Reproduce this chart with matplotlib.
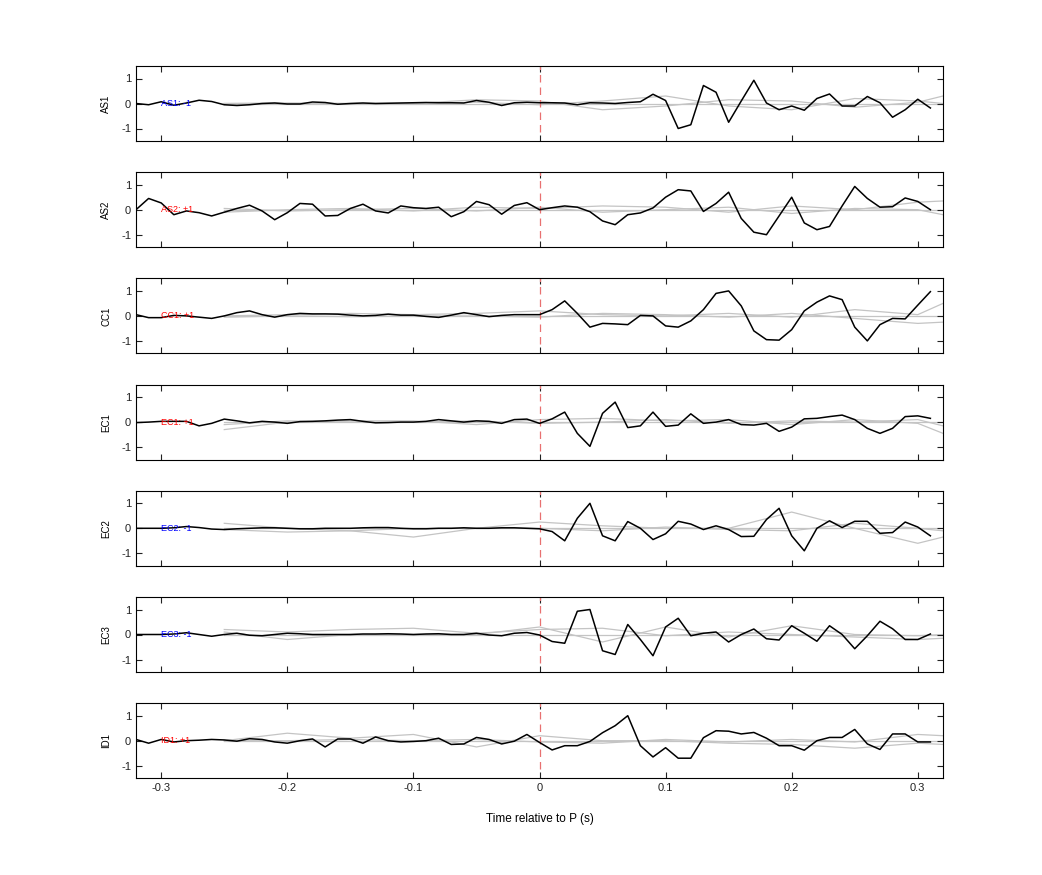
import numpy as np
import matplotlib
matplotlib.use("Agg")
import matplotlib.pyplot as plt

t = np.round(np.arange(-0.32, 0.315, 0.01), 2)  # 64 samples
stations = ["AS1", "AS2", "CC1", "EC1", "EC2", "EC3", "ID1"]
polarity = ["-1", "+1", "+1", "+1", "-1", "-1", "+1"]

as1 = [0, -0.05, 0.07, -0.07, 0.02, 0.13, 0.08, -0.05, -0.08, -0.05, 0.0, 0.02, -0.02, -0.02, 0.06, 0.04,
       -0.03, 0.0, 0.02, 0.0, 0.01, 0.02, 0.03, 0.04, 0.03, 0.03, 0.02, 0.12, 0.05, -0.08, 0.03, 0.05,
       0.03, 0.03, 0.02, -0.05, 0.03, 0.02, 0.0, 0.04, 0.07, 0.37, 0.12, -1.0, -0.85, 0.72, 0.45, -0.75,
       0.1, 0.93, 0.02, -0.25, -0.1, -0.27, 0.2, 0.38, -0.1, -0.1, 0.28, 0.03, -0.55, -0.25, 0.17, -0.18]
as2 = [0, 0.45, 0.27, -0.2, -0.05, -0.12, -0.25, -0.1, 0.05, 0.18, -0.05, -0.4, -0.12, 0.25, 0.22, -0.25,
       -0.23, 0.05, 0.22, -0.05, -0.13, 0.15, 0.08, 0.05, 0.1, -0.28, -0.08, 0.33, 0.2, -0.18, 0.17, 0.28,
       0.0, 0.08, 0.15, 0.1, -0.08, -0.45, -0.6, -0.2, -0.13, 0.07, 0.5, 0.8, 0.75, -0.07, 0.25, 0.7,
       -0.35, -0.9, -1.0, -0.25, 0.5, -0.53, -0.8, -0.67, 0.15, 0.93, 0.45, 0.1, 0.12, 0.47, 0.33, 0.0]
cc1 = [0.05, -0.07, -0.07, 0.02, 0.0, -0.05, -0.1, 0.0, 0.13, 0.2, 0.05, -0.05, 0.05, 0.1, 0.08, 0.08,
       0.07, 0.03, 0.0, 0.02, 0.07, 0.03, 0.03, -0.02, -0.06, 0.03, 0.13, 0.05, -0.03, 0.02, 0.05, 0.05,
       0.05, 0.25, 0.6, 0.1, -0.45, -0.3, -0.32, -0.35, 0.02, 0.0, -0.4, -0.45, -0.2, 0.25, 0.9, 1.0,
       0.4, -0.6, -0.95, -0.97, -0.55, 0.2, 0.55, 0.8, 0.65, -0.45, -1.0, -0.35, -0.1, -0.12, 0.43, 0.97]
ec1 = [-0.02, 0.0, 0.03, 0.03, 0.03, -0.15, -0.05, 0.12, 0.05, -0.03, 0.03, 0.0, -0.05, 0.02, 0.03, 0.05,
       0.08, 0.1, 0.03, -0.03, -0.02, 0.0, 0.0, 0.03, 0.1, 0.05, 0.0, 0.05, 0.03, -0.05, 0.1, 0.12,
       -0.05, 0.13, 0.4, -0.45, -0.97, 0.35, 0.8, -0.22, -0.15, 0.4, -0.17, -0.12, 0.33, -0.05, 0.0, 0.1,
       -0.1, -0.12, -0.05, -0.37, -0.2, 0.13, 0.15, 0.22, 0.28, 0.1, -0.25, -0.45, -0.25, 0.22, 0.25, 0.15]
ec2 = [0.0, 0.0, 0.0, 0.02, 0.07, 0.03, -0.03, -0.05, -0.02, 0.0, 0.02, 0.02, 0.0, -0.02, -0.02, 0.0,
       0.0, 0.0, 0.02, 0.03, 0.03, 0.0, -0.02, -0.02, 0.0, 0.0, 0.02, 0.0, 0.0, 0.02, 0.02, 0.0,
       -0.02, -0.13, -0.5, 0.4, 1.0, -0.3, -0.5, 0.27, 0.0, -0.45, -0.22, 0.28, 0.17, -0.05, 0.1, -0.05,
       -0.33, -0.32, 0.35, 0.8, -0.3, -0.9, 0.0, 0.3, 0.03, 0.28, 0.28, -0.2, -0.17, 0.25, 0.05, -0.3]
ec3 = [0.0, 0.0, 0.0, 0.02, 0.07, 0.0, -0.07, 0.0, 0.05, -0.03, -0.05, 0.0, 0.05, 0.03, 0.0, 0.0,
       0.0, 0.0, 0.02, 0.02, 0.03, 0.02, 0.0, 0.02, 0.03, 0.0, 0.0, 0.05, -0.02, -0.05, 0.05, 0.08,
       -0.02, -0.28, -0.35, 0.93, 1.0, -0.65, -0.8, 0.4, -0.2, -0.85, 0.3, 0.65, -0.05, 0.05, 0.1, -0.3,
       0.0, 0.22, -0.17, -0.22, 0.35, 0.05, -0.27, 0.35, 0.0, -0.57, -0.05, 0.53, 0.23, -0.2, -0.2, 0.02]
id1 = [0.05, -0.1, 0.05, -0.05, 0.0, 0.02, 0.05, 0.03, -0.02, 0.08, 0.05, -0.05, -0.1, 0.0, 0.07, -0.25,
       0.07, 0.07, -0.1, 0.15, 0.0, -0.05, -0.03, 0.0, 0.1, -0.15, -0.13, 0.13, 0.05, -0.13, -0.02, 0.25,
       -0.07, -0.37, -0.2, -0.2, -0.03, 0.32, 0.6, 1.0, -0.2, -0.65, -0.28, -0.7, -0.7, 0.12, 0.4, 0.38,
       0.27, 0.33, 0.1, -0.2, -0.2, -0.38, 0.0, 0.13, 0.13, 0.45, -0.13, -0.35, 0.27, 0.27, -0.05, -0.05]
traces = [as1, as2, cc1, ec1, ec2, ec3, id1]

# grey comparison traces, sampled every 0.05 s from -0.25 to 0.30, plus 0.32
tg = [-0.25, -0.2, -0.15, -0.1, -0.05, 0.0, 0.05, 0.1, 0.15, 0.2, 0.25, 0.3, 0.32]
grey = [
    [[0, 0, 0, 0, 0.15, 0.1, -0.25, -0.1, 0.15, 0.1, -0.15, 0.05, 0.3],
     [0, 0.02, 0, 0, 0.05, -0.05, 0.1, 0.3, -0.1, -0.25, 0.2, 0.1, 0.0],
     [0, 0, 0, 0, 0, 0, 0, 0, 0, 0, 0, 0, 0]],
    [[-0.1, 0.0, 0.05, -0.05, 0.1, 0.05, 0.15, 0.1, -0.1, 0.15, 0.0, 0.3, 0.35],
     [0.05, -0.05, 0.0, 0.05, -0.05, 0.1, -0.1, 0.0, 0.1, -0.15, 0.05, 0.0, -0.2],
     [0, 0, 0, 0, 0, 0, 0, 0, 0, 0, 0, 0, 0]],
    [[0.0, 0.05, 0.1, 0.05, 0.1, 0.2, 0.05, 0.0, 0.1, -0.05, 0.25, 0.05, 0.5],
     [-0.05, 0.0, -0.03, 0.0, 0.0, -0.05, 0.1, 0.05, -0.05, 0.1, -0.1, -0.3, -0.25],
     [0, 0, 0, 0, 0, 0, 0, 0, 0, 0, 0, 0, 0]],
    [[-0.3, 0.0, 0.05, 0.05, -0.1, 0.1, 0.15, 0.05, 0.1, -0.1, 0.1, -0.05, -0.45],
     [-0.1, 0.05, 0.0, 0.0, 0.05, -0.05, 0.0, 0.1, -0.05, 0.05, 0.0, 0.1, -0.15],
     [0, 0, 0, 0, 0, 0, 0, 0, 0, 0, 0, 0, 0]],
    [[0.2, 0.0, -0.1, 0.0, 0.0, 0.25, 0.1, 0.0, 0.0, 0.65, 0.0, -0.6, -0.35],
     [-0.05, -0.15, -0.1, -0.35, 0.0, 0.0, -0.1, 0.05, -0.05, -0.1, 0.2, 0.0, -0.1],
     [0, 0, 0, 0, 0, 0, 0, 0, 0, 0, 0, 0, 0]],
    [[0.2, 0.1, 0.2, 0.25, 0.05, 0.2, 0.25, -0.05, 0.1, 0.0, -0.1, -0.2, -0.15],
     [0.1, -0.2, 0.0, 0.0, 0.0, 0.3, -0.3, 0.3, -0.1, 0.35, 0.0, -0.05, 0.0],
     [0, 0, 0, 0, 0, 0, 0, 0, 0, 0, 0, 0, 0]],
    [[0.0, 0.3, 0.1, 0.25, -0.25, 0.2, 0.0, 0.0, -0.1, -0.15, -0.3, -0.1, -0.15],
     [0.0, 0.0, 0.05, 0.0, 0.05, -0.05, -0.1, 0.05, -0.05, 0.05, -0.05, 0.25, 0.2],
     [0, 0, 0, 0, 0, 0, 0, 0, 0, 0, 0, 0, 0]],
]
xticks = [-0.3, -0.2, -0.1, 0, 0.1, 0.2, 0.3]
xticklabels = ["-0.3", "-0.2", "-0.1", "0", "0.1", "0.2", "0.3"]
yticks = [-1, 0, 1]

plt.rcParams['font.family'] = ['Liberation Sans', 'DejaVu Sans']
plt.rcParams['axes.unicode_minus'] = False
W, H = 1042, 875
fig = plt.figure(figsize=(W / 100, H / 100), dpi=100)
left, right = 136 / W, 943 / W
for k, (st, pol) in enumerate(zip(stations, polarity)):
    top_px = 66 + 106.2 * k
    ax = fig.add_axes([left, 1 - (top_px + 75) / H, right - left, 75 / H])
    for g in grey[k]:
        ax.plot(tg, g, color='#c4c4c4', lw=0.9, zorder=1)
    ax.axvline(0, ymin=0.12, ymax=1, color='#e87070', lw=0.9, dashes=(6, 4), zorder=2)
    ax.plot(t, traces[k], color='black', lw=1.1, zorder=3)
    col = 'blue' if pol.startswith('-') else 'red'
    ax.text(-0.3, 0, f"{st}: {pol}", color=col, fontsize=6.5, va='center', ha='left', zorder=4)
    ax.set_xlim(-0.32, 0.32)
    ax.set_ylim(-1.5, 1.5)
    ax.set_yticks(yticks)
    ax.set_xticks(xticks)
    ax.tick_params(direction='in', top=True, right=True, labelsize=8, length=4, colors='#222222')
    ax.set_ylabel(st, fontsize=7, labelpad=7)
    if k < len(stations) - 1:
        ax.set_xticklabels([])
    else:
        ax.set_xticklabels(xticklabels)
        ax.set_xlabel("Time relative to P (s)", fontsize=8.5, labelpad=14)
    for s in ax.spines.values():
        s.set_linewidth(0.8)

fig.savefig("out.png", dpi=100)
